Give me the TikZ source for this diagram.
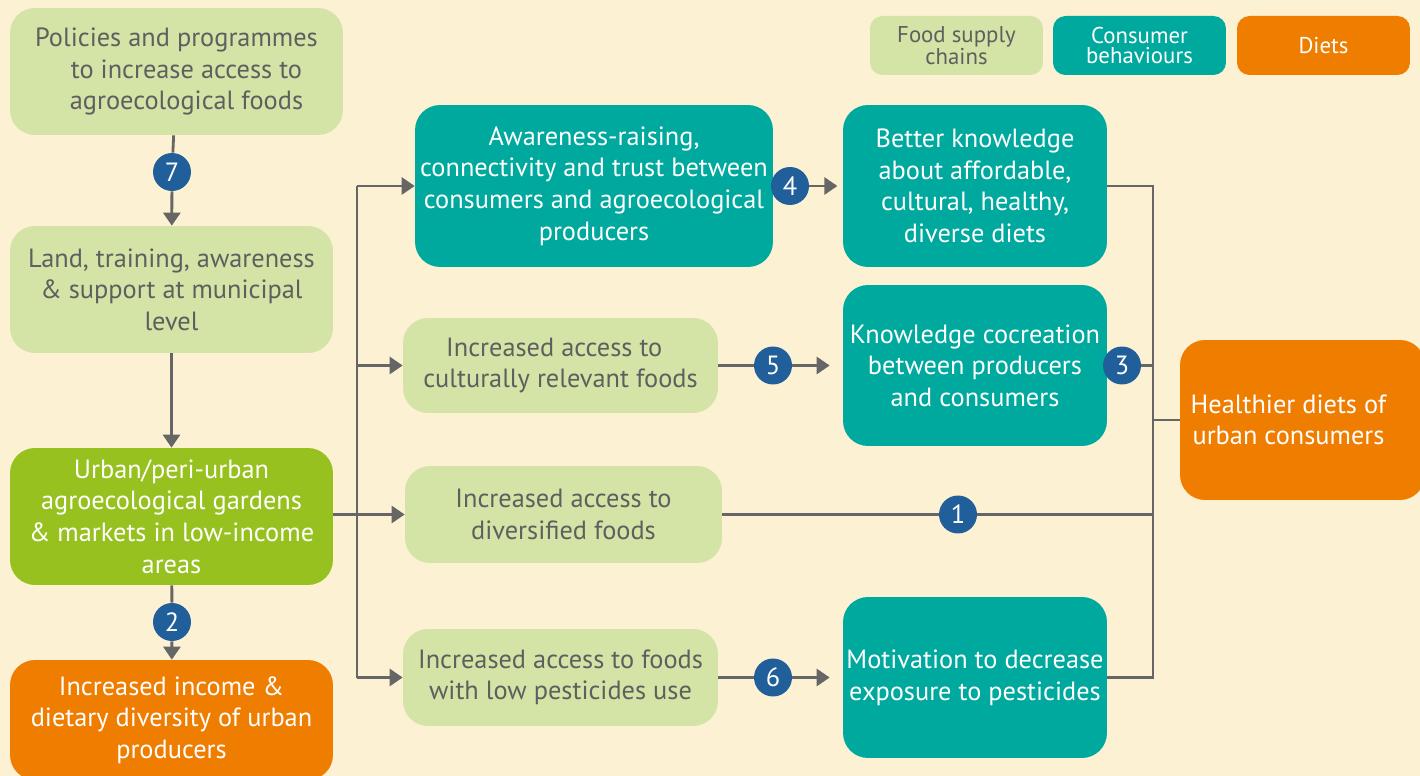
\documentclass[tikz,border=0pt]{standalone}
\usepackage{fontspec}
\setmainfont{PT Sans}
\usepackage{xcolor}
\definecolor{bgcream}{HTML}{FCF1D3}
\definecolor{fsgreen}{HTML}{D3E4A6}
\definecolor{gdgreen}{HTML}{97C11F}
\definecolor{cbteal}{HTML}{00A99D}
\definecolor{dtorange}{HTML}{EF7D00}
\definecolor{bdblue}{HTML}{215F9A}
\definecolor{lngray}{HTML}{666666}
\definecolor{txgray}{HTML}{5F5F5F}
\usepackage{tikz}
\usetikzlibrary{arrows.meta,positioning,calc}

\begin{document}
\begin{tikzpicture}[x=0.02cm, y=-0.02cm,
    supbox/.style={rectangle, fill=fsgreen, rounded corners=0.5cm, align=center,
                   text=txgray, font=\fontsize{15}{18}\selectfont, inner sep=1pt},
    conbox/.style={supbox, fill=cbteal, text=white},
    dietbox/.style={supbox, fill=dtorange, text=white},
    gardenbox/.style={supbox, fill=gdgreen, text=white},
    legbox/.style={rectangle, rounded corners=0.25cm, align=center, inner sep=1pt,
                   minimum width=3.46cm, minimum height=1.18cm,
                   font=\fontsize{13}{11.5}\selectfont},
    badge/.style={circle, fill=bdblue, text=white, minimum size=0.76cm, inner sep=0pt,
                  font=\fontsize{15}{15}\selectfont},
    link/.style={draw=lngray, line width=1.6pt},
    flow/.style={link, -{Triangle[length=0.26cm,width=0.34cm]}},
  ]
    \useasboundingbox (0,0) rectangle (1420,776);
    \clip (0,0) rectangle (1420,776);
    \fill[bgcream] (0,0) rectangle (1420,776);

    % Legend
    \node[legbox, fill=fsgreen, text=txgray] (legfood) at (956.5,45.5) {Food supply\\chains};
    \node[legbox, fill=cbteal, text=white] (legcons) at (1139.5,45.5) {Consumer\\behaviours};
    \node[legbox, fill=dtorange, text=white] (legdiet) at (1323.5,45.5) {Diets};

    % Left column
    \node[supbox, minimum width=6.66cm, minimum height=2.54cm] (policies) at (176.5,71.5)
      {Policies and programmes\\\hspace*{0.4cm}to increase access to\\\hspace*{0.4cm}agroecological foods};
    \node[supbox, minimum width=6.46cm, minimum height=2.54cm] (land) at (171.5,289.5)
      {Land, training, awareness\\\& support at municipal\\level};
    \node[gardenbox, minimum width=6.46cm, minimum height=2.74cm] (urban) at (171.5,516.5)
      {Urban/peri-urban\\agroecological gardens\\\& markets in low-income\\areas};
    \node[dietbox, minimum width=6.46cm, minimum height=2.4cm] (income) at (171.5,720)
      {Increased income \&\\dietary diversity of urban\\producers};

    % Middle column
    \node[conbox, minimum width=7.16cm, minimum height=3.24cm] (awareness) at (594,186)
      {Awareness-raising,\\connectivity and trust between\\consumers and agroecological\\producers};
    \node[supbox, minimum width=6.3cm, minimum height=1.9cm] (cultural) at (560.5,365.5)
      {Increased access to\hspace*{0.25cm}\\culturally relevant foods};
    \node[supbox, minimum width=6.34cm, minimum height=1.94cm] (diversified) at (563.5,514.5)
      {Increased access to\\diversified foods};
    \node[supbox, minimum width=6.3cm, minimum height=1.94cm] (pesticides) at (560.5,677.5)
      {Increased access to foods\\with low pesticides use};

    % Right column
    \node[conbox, minimum width=5.28cm, minimum height=3.24cm] (better) at (975,186)
      {Better knowledge\\about affordable,\\cultural, healthy,\\diverse diets};
    \node[conbox, minimum width=5.28cm, minimum height=3.22cm] (cocreation) at (975,365.5)
      {Knowledge cocreation\\between producers\\and consumers};
    \node[conbox, minimum width=5.28cm, minimum height=3.22cm] (motivation) at (975,677.5)
      {Motivation to decrease\\exposure to pesticides};
    \node[dietbox, minimum width=4.9cm, minimum height=3.2cm] (healthier) at (1302.5,420)
      {Healthier diets of\hspace*{0.56cm}\\urban consumers\hspace*{0.56cm}};

    % Badges
    \node[badge] (b7) at (172,172) {7};
    \node[badge] (b2) at (172,622) {2};
    \node[badge] (b4) at (790,186) {4};
    \node[badge] (b5) at (773,365.5) {5};
    \node[badge] (b3) at (1122,365.5) {3};
    \node[badge] (b1) at (958,514.5) {1};
    \node[badge] (b6) at (773,677.5) {6};

    % Left flows
    \draw[link] (policies) -- (b7);
    \draw[flow] (b7) -- (land);
    \draw[flow] (land) -- (urban);
    \draw[link] (urban) -- (b2);
    \draw[flow] (b2) -- (income);

    % Branching bus
    \coordinate (busN) at (357,186);
    \coordinate (busS) at (357,677.5);
    \draw[link] (busN) -- (busS);
    \draw[flow] (busN) -- (awareness.west);
    \draw[flow] (cultural.west -| busN) -- (cultural.west);
    \draw[flow] (urban.east |- diversified.west) -- (diversified.west);
    \draw[flow] (busS) -- (pesticides.west);

    % Middle flows
    \draw[flow, shorten >=3pt] (b4) -- (better.west);
    \draw[link] (cultural.east) -- (b5);
    \draw[flow, shorten >=0.26cm] (b5) -- (cocreation.west);
    \draw[link] (pesticides.east) -- (b6);
    \draw[flow, shorten >=0.26cm] (b6) -- (motivation.west);

    % Collector bus
    \coordinate (rbusN) at (1153,186);
    \coordinate (rbusS) at (1153,677.5);
    \draw[link] (better.east) -- (rbusN) -- (rbusS) -- (motivation.east);
    \draw[link] (b3) -- (b3 -| rbusN);
    \draw[link] (diversified.east) -- (b1) -- (b1 -| rbusN);
    \draw[link] (rbusN |- healthier.west) -- (healthier.west);
\end{tikzpicture}
\end{document}
